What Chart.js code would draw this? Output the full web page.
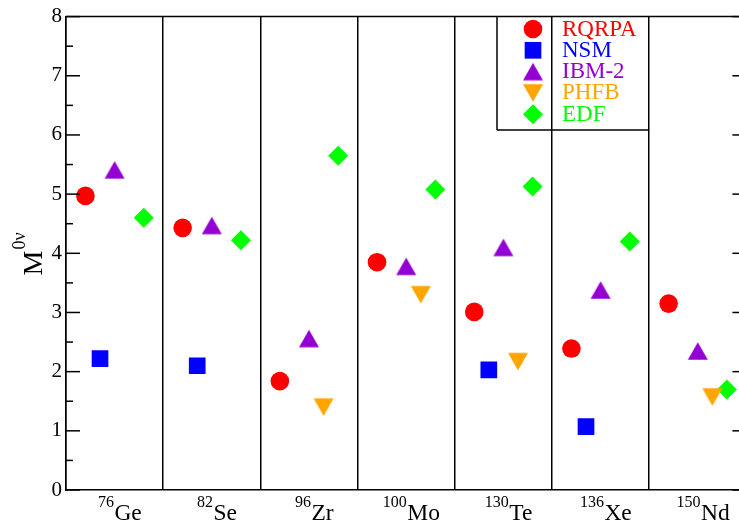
<!DOCTYPE html>
<html>
<head>
<meta charset="utf-8">
<script src="https://cdn.jsdelivr.net/npm/chart.js@4.4.0/dist/chart.umd.min.js"></script>
<style>
  body { margin: 0; background: #fff; }
</style>
</head>
<body>
<canvas id="nme" width="739" height="522"></canvas>
<script>
// nuclei along the x axis
const massNumbers = ['76', '82', '96', '100', '130', '136', '150'];
const nuclei = ['Ge', 'Se', 'Zr', 'Mo', 'Te', 'Xe', 'Nd'];

// M0v per model, null where a model gives no value
const rqrpa = [4.97, 4.43, 1.84, 3.85, 3.01, 2.39, 3.15];
const nsm   = [2.22, 2.10, null, null, 2.03, 1.07, null];
const ibm2  = [5.41, 4.47, 2.56, 3.78, 4.10, 3.38, 2.35];
const phfb  = [null, null, 1.40, 3.30, 2.17, null, 1.57];
const edf   = [4.60, 4.22, 5.65, 5.08, 5.13, 4.20, 1.70];

const yMin = 0, yMax = 8;

// triangles as small canvases so they sit centred on the value
function triangleCanvas(color, down) {
  const c = document.createElement('canvas');
  c.width = 22; c.height = 20;
  const g = c.getContext('2d');
  g.fillStyle = color;
  g.beginPath();
  if (down) {
    g.moveTo(1, 1.3); g.lineTo(21, 1.3); g.lineTo(11, 18.7);
  } else {
    g.moveTo(11, 1.3); g.lineTo(21, 18.7); g.lineTo(1, 18.7);
  }
  g.closePath();
  g.fill();
  return c;
}

const series = [
  { label: 'RQRPA', values: rqrpa, color: '#ff0000', style: 'circle', radius: 9.3 },
  { label: 'NSM', values: nsm, color: '#0000ff', style: 'rect', radius: 11.8 },
  { label: 'IBM-2', values: ibm2, color: '#9400d3', style: triangleCanvas('#9400d3', false), radius: 10 },
  { label: 'PHFB', values: phfb, color: '#ffa500', style: triangleCanvas('#ffa500', true), radius: 10 },
  { label: 'EDF', values: edf, color: '#00ff00', style: 'rectRot', radius: 10 }
];
// horizontal place of each model inside a nucleus column
const offsets = [0.2, 0.35, 0.5, 0.65, 0.8];

const serif = '"Liberation Serif", "Times New Roman", serif';

function drawMarker(ctx, s, x, y) {
  ctx.fillStyle = s.color;
  if (typeof s.style !== 'string') {
    ctx.drawImage(s.style, x - s.style.width / 2, y - s.style.height / 2);
    return;
  }
  ctx.beginPath();
  if (s.style === 'circle') {
    ctx.arc(x, y, s.radius, 0, Math.PI * 2);
  } else if (s.style === 'rect') {
    const h = s.radius * Math.SQRT1_2;
    ctx.rect(x - h, y - h, 2 * h, 2 * h);
  } else {
    const r = s.radius;
    ctx.moveTo(x - r, y); ctx.lineTo(x, y - r); ctx.lineTo(x + r, y); ctx.lineTo(x, y + r);
    ctx.closePath();
  }
  ctx.fill();
}

function line(ctx, x1, y1, x2, y2) {
  ctx.beginPath();
  ctx.moveTo(x1, y1);
  ctx.lineTo(x2, y2);
  ctx.stroke();
}

const decorations = {
  id: 'decorations',
  afterDraw(chart) {
    const ctx = chart.ctx;
    const a = chart.chartArea;
    const x = chart.scales.x, y = chart.scales.y;
    ctx.save();
    ctx.strokeStyle = '#000';
    ctx.lineWidth = 1.5;

    // top frame and inward ticks on both sides
    line(ctx, a.left, a.top, a.right, a.top);
    const rightFrame = x.getPixelForValue(7);
    for (let v = yMin; v <= yMax; v += 0.5) {
      const py = y.getPixelForValue(v);
      const len = v % 1 === 0 ? 14 : 7;
      line(ctx, a.left, py, a.left + len, py);
      line(ctx, rightFrame, py, rightFrame - len, py);
    }

    // legend box
    const boxLeft = 497, boxBottom = 130, boxRight = x.getPixelForValue(6);
    line(ctx, boxLeft, a.top, boxLeft, boxBottom);
    line(ctx, boxLeft, boxBottom, boxRight, boxBottom);
    ctx.font = '23px ' + serif;
    ctx.textAlign = 'left';
    ctx.textBaseline = 'alphabetic';
    series.forEach((s, k) => {
      const base = 35.5 + k * 21.3;
      drawMarker(ctx, s, 533, base - 6.5);
      ctx.fillStyle = s.color;
      ctx.fillText(s.label, 562, base);
    });

    // nucleus labels with mass number as superscript
    ctx.fillStyle = '#000';
    nuclei.forEach((name, i) => {
      const cx = x.getPixelForValue(i + 0.5) + 5;
      ctx.font = '16px ' + serif;
      const ws = ctx.measureText(massNumbers[i]).width;
      ctx.font = '23.5px ' + serif;
      const wm = ctx.measureText(name).width;
      const start = cx - (ws + wm) / 2;
      ctx.font = '16px ' + serif;
      ctx.fillText(massNumbers[i], start, 506.5);
      ctx.font = '23.5px ' + serif;
      ctx.fillText(name, start + ws + 0.5, 520);
    });

    // y title M^0v
    ctx.translate(42, 275.5);
    ctx.rotate(-Math.PI / 2);
    ctx.font = '28px ' + serif;
    ctx.fillText('M', 0, 0);
    const wM = ctx.measureText('M').width;
    ctx.font = '18px ' + serif;
    ctx.fillText('0ν', wM + 1, -17);
    ctx.restore();
  }
};

new Chart(document.getElementById('nme'), {
  type: 'scatter',
  data: {
    datasets: series.map((s, k) => ({
      label: s.label,
      data: s.values
        .map((v, i) => (v === null ? null : { x: i + offsets[k], y: v }))
        .filter(p => p),
      pointStyle: s.style,
      pointRadius: s.radius,
      pointHoverRadius: s.radius,
      backgroundColor: s.color,
      borderColor: s.color,
      borderWidth: 0,
      showLine: false
    }))
  },
  options: {
    responsive: false,
    animation: false,
    devicePixelRatio: 1,
    layout: { autoPadding: false, padding: { top: 14.7, left: 0, right: 0, bottom: 0 } },
    plugins: {
      legend: { display: false },
      tooltip: { enabled: false }
    },
    scales: {
      x: {
        type: 'linear',
        min: 0,
        max: 6.924,
        afterFit: scale => { scale.height = 32; },
        ticks: { display: false, stepSize: 1, includeBounds: false },
        grid: { color: '#000', lineWidth: 1.5, drawTicks: false },
        border: { display: true, color: '#000', width: 1.5 }
      },
      y: {
        min: yMin,
        max: yMax,
        afterFit: scale => { scale.width = 66; },
        ticks: {
          stepSize: 1,
          padding: 4,
          color: '#000',
          font: { family: serif, size: 21 }
        },
        grid: { display: false, drawTicks: false },
        border: { display: true, color: '#000', width: 1.5 }
      }
    }
  },
  plugins: [decorations]
});
</script>
</body>
</html>
